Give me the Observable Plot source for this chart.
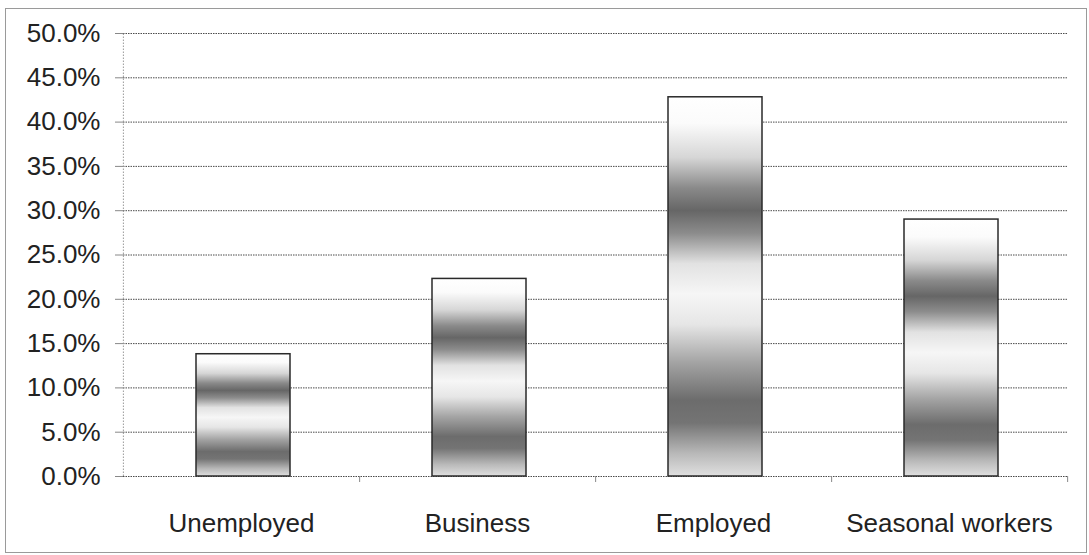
<!DOCTYPE html>
<html>
<head>
<meta charset="utf-8">
<script src="https://cdn.jsdelivr.net/npm/d3@7"></script>
<script src="https://cdn.jsdelivr.net/npm/@observablehq/plot@0.6"></script>
<style>
  html, body { margin: 0; padding: 0; background: #fff; }
  #wrap { position: relative; width: 1089px; height: 555px; }
  #border { position: absolute; left: 5px; top: 8px; width: 1080px; height: 543px; border: 1px solid #9a9a9a; pointer-events: none; }
</style>
</head>
<body>
<div id="wrap"><div id="border"></div></div>
<script>
const categories = ["Unemployed", "Business", "Employed", "Seasonal workers"];
const values = [0.138, 0.223, 0.428, 0.290];
const yTicks = [0, 0.05, 0.10, 0.15, 0.20, 0.25, 0.30, 0.35, 0.40, 0.45, 0.50];

const data = categories.map((c, i) => ({category: c, value: values[i]}));

const gradientStops = [
  [0.00, "#ffffff"], [0.07, "#fbfbfb"], [0.16, "#d6d6d6"], [0.24, "#8a8a8a"],
  [0.30, "#666666"], [0.36, "#8c8c8c"], [0.44, "#e2e2e2"], [0.52, "#f6f6f6"],
  [0.60, "#e6e6e6"], [0.70, "#a4a4a4"], [0.80, "#6c6c6c"], [0.86, "#747474"],
  [0.94, "#b8b8b8"], [1.00, "#e0e0e0"]
];

function gradientDefs() {
  const defs = d3.create("svg:defs");
  const g = defs.append("linearGradient")
    .attr("id", "barBands")
    .attr("x1", 0).attr("y1", 0).attr("x2", 0).attr("y2", 1);
  for (const [o, c] of gradientStops) {
    g.append("stop").attr("offset", o).attr("stop-color", c);
  }
  return defs.node();
}

const W = 1089, H = 555, ML = 123, MR = 21, MT = 33, MB = 79;
const step = (W - ML - MR) / categories.length;

const chart = Plot.plot({
  width: W, height: H,
  marginLeft: ML, marginRight: MR, marginTop: MT, marginBottom: MB,
  style: {fontFamily: "'Liberation Sans', Arial, sans-serif", fontSize: "26px", color: "#222", background: "transparent", overflow: "visible"},
  x: {domain: categories, paddingInner: 0.6, paddingOuter: 0.3, label: null},
  y: {domain: [0, 0.5], label: null},
  marks: [
    gradientDefs,
    Plot.gridY(yTicks, {stroke: "#4a4a4a", strokeOpacity: 1, strokeDasharray: "1.5,1"}),
    Plot.ruleX([categories[0]], {x: d => d, dx: -step / 2, y1: 0, y2: 0.5, stroke: "#999", strokeDasharray: "1.5,1.5"}),
    Plot.ruleX(categories, {x: d => d, dx: step / 2, y1: 0, y2: 0, insetBottom: -6, stroke: "#888"}),
    Plot.axisY({ticks: yTicks, tickFormat: d3.format(".1%"), tickSize: 8, tickPadding: 15, stroke: "#888"}),
    Plot.axisX({tickSize: 0, tickPadding: 37}),
    Plot.barY(data, {x: "category", y: "value", dx: 2, fill: "url(#barBands)", stroke: "#2a2a2a", strokeWidth: 1.5})
  ]
});
document.getElementById("wrap").prepend(chart);
</script>
</body>
</html>
